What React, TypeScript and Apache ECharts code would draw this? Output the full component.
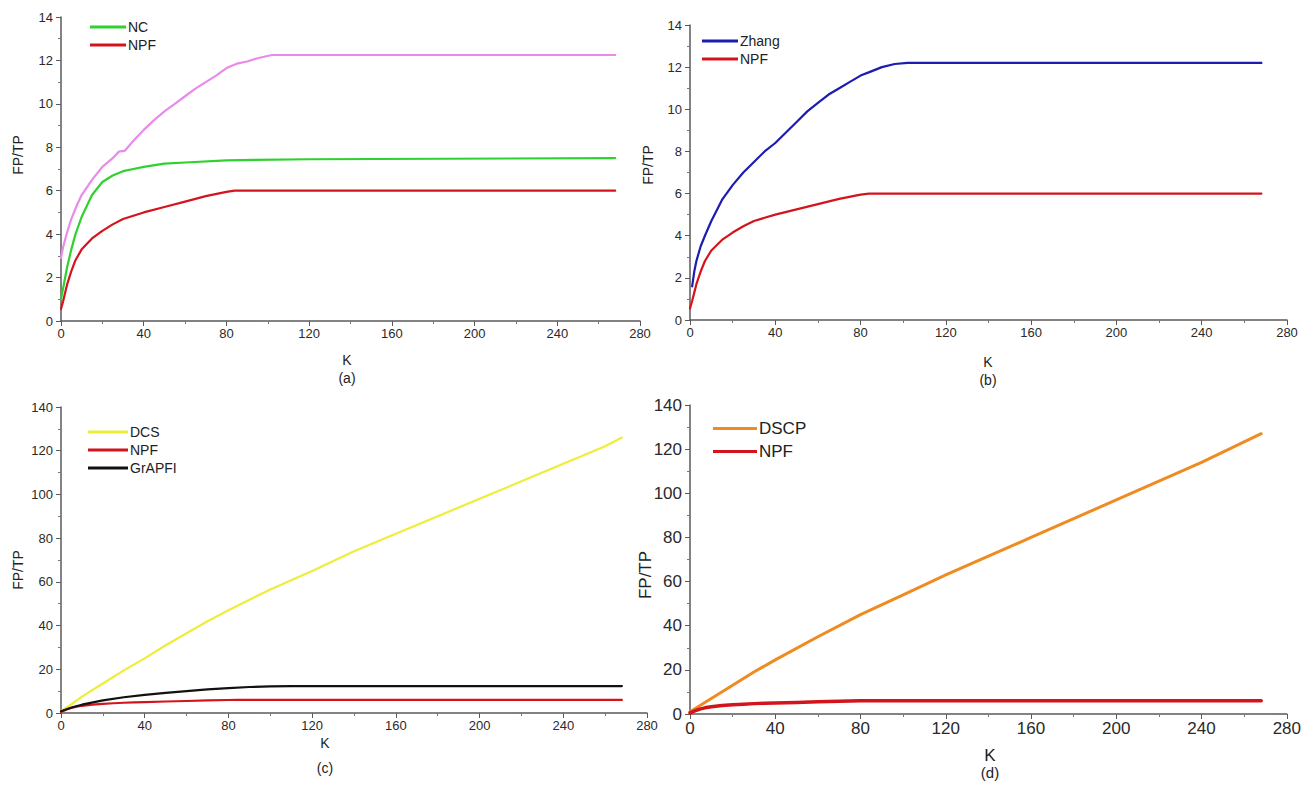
import React, { useEffect, useRef } from "react";
import * as echarts from "echarts";

// ---- data: [K, FP/TP] pairs ----
const npf: number[][] = [[0,0.55],[1,0.9],[2,1.3],[3,1.7],[5,2.3],[7,2.8],[10,3.3],[15,3.8],[20,4.15],[25,4.45],[30,4.7],[35,4.85],[40,5.0],[50,5.25],[60,5.5],[70,5.75],[80,5.95],[84,6.0],[268,6.0]];
const ncA: number[][] = [[0,1.0],[1,1.5],[2,2.0],[3,2.5],[5,3.3],[7,4.0],[10,4.8],[15,5.8],[20,6.4],[25,6.7],[30,6.9],[35,7.0],[40,7.1],[50,7.25],[60,7.3],[80,7.4],[120,7.45],[268,7.5]];
const pinkA: number[][] = [[0,2.9],[1,3.4],[3,4.1],[5,4.7],[8,5.4],[10,5.8],[15,6.5],[20,7.1],[25,7.5],[28,7.8],[31,7.85],[35,8.3],[40,8.8],[45,9.25],[50,9.65],[55,10.0],[60,10.35],[65,10.7],[70,11.0],[75,11.3],[80,11.65],[85,11.85],[90,11.95],[95,12.1],[102,12.25],[268,12.25]];
const zhangB: number[][] = [[1,1.6],[2,2.3],[3,2.8],[5,3.5],[7,4.0],[10,4.7],[15,5.7],[20,6.4],[25,7.0],[30,7.5],[35,8.0],[40,8.4],[45,8.9],[50,9.4],[55,9.9],[60,10.3],[65,10.7],[70,11.0],[75,11.3],[80,11.6],[85,11.8],[90,12.0],[96,12.15],[102,12.2],[268,12.2]];
const dcsC: number[][] = [[0,1],[5,4],[10,7.5],[20,13.5],[30,19.5],[40,25],[50,31],[60,36.5],[70,42],[80,47],[100,56.5],[120,65],[140,74],[160,82],[180,90],[200,98],[220,106],[240,114],[260,122],[268,126]];
const grapfiC: number[][] = [[0,0.8],[5,2.5],[10,3.8],[20,5.8],[30,7.2],[40,8.3],[50,9.2],[60,10.0],[70,10.8],[80,11.4],[90,11.9],[100,12.2],[110,12.3],[268,12.3]];
const dscpD: number[][] = [[0,1],[10,7],[20,13],[30,19],[40,24.5],[60,35],[80,45],[100,54],[120,63],[140,71.5],[160,80],[180,88.5],[200,97],[220,105.5],[240,114],[268,127]];

const xTicks = { min: 0, max: 280, interval: 40 };
const yTicksSmall = { min: 0, max: 14, interval: 2 };
const yTicksBig = { min: 0, max: 140, interval: 20 };

const FONT = "Liberation Sans, Arial, sans-serif";

export default function App() {
  const ref = useRef<HTMLDivElement>(null);
  useEffect(() => {
    const chart = echarts.init(ref.current!, undefined, { renderer: "svg" });
    const axisCommon = (fs: number, lm: number) => ({
      axisLine: { show: true, lineStyle: { color: "#5a5a5a", width: 1.5 } },
      axisTick: { show: true, inside: false, length: 5, lineStyle: { color: "#5a5a5a" } },
      minorTick: { show: true, splitNumber: 2, length: 3, lineStyle: { color: "#777" } },
      splitLine: { show: false },
      axisLabel: { color: "#2a2a2a", fontSize: fs, fontFamily: FONT, margin: lm },
    });
    const grids = [
      { left: 61, top: 17, width: 579, height: 304 },
      { left: 690, top: 25, width: 597, height: 295 },
      { left: 61, top: 407, width: 586, height: 306 },
      { left: 690, top: 405, width: 598, height: 309 },
    ];
    const fsz = [13, 13, 13, 17];
    const xAxis = grids.map((_, i) => ({
      type: "value", gridIndex: i, ...xTicks, ...axisCommon(fsz[i], 6),
    }));
    const yAxis = grids.map((_, i) => ({
      type: "value", gridIndex: i, ...(i < 2 ? yTicksSmall : yTicksBig), ...axisCommon(fsz[i], 8),
    }));
    const line = (name: string, data: number[][], idx: number, color: string, w = 2.2) => ({
      type: "line", name, data, xAxisIndex: idx, yAxisIndex: idx, showSymbol: false, symbol: "none",
      lineStyle: { color, width: w, join: "round", cap: "round" }, itemStyle: { color }, smooth: false,
    });
    const RED = "#d4141c";
    const series = [
      line("pink", pinkA, 0, "#ea8aea"),
      line("NC", ncA, 0, "#2fd12f"),
      line("NPF", npf, 0, RED),
      line("Zhang", zhangB, 1, "#1c1cb0"),
      line("NPF", npf, 1, RED),
      line("DCS", dcsC, 2, "#eeee3a"),
      line("NPF", npf, 2, RED),
      line("GrAPFI", grapfiC, 2, "#111111"),
      line("DSCP", dscpD, 3, "#ee8c22", 3),
      line("NPF", npf, 3, RED, 3.5),
    ];
    const legendBase = (fs: number) => ({
      orient: "vertical", icon: "rect", itemHeight: 3, selectedMode: false, padding: 0,
      textStyle: { fontSize: fs, fontFamily: FONT, color: "#222", padding: [0, 0, 0, -3] },
    });
    const legend = [
      { ...legendBase(14), data: ["NC", "NPF"], left: 90, top: 20, itemWidth: 36, itemGap: 4 },
      { ...legendBase(14), data: ["Zhang", "NPF"], left: 702, top: 34, itemWidth: 36, itemGap: 4 },
      { ...legendBase(14), data: ["DCS", "NPF", "GrAPFI"], left: 88, top: 425, itemWidth: 40, itemGap: 4 },
      { ...legendBase(17), data: ["DSCP", "NPF"], left: 713, top: 420, itemWidth: 44, itemGap: 6 },
    ];
    const txt = (text: string, x: number, y: number, fs: number, rot = 0) => ({
      type: "text", x, y, rotation: rot,
      style: { text, fontSize: fs, fontFamily: FONT, fill: "#222", align: "center", verticalAlign: "middle" },
    });
    const graphic = [
      txt("K", 347, 360, 14), txt("(a)", 347, 378, 14),
      txt("K", 988, 362, 14), txt("(b)", 988, 380, 14),
      txt("K", 325, 743, 14), txt("(c)", 325, 768, 14),
      txt("K", 990, 755, 17), txt("(d)", 990, 772, 15),
      txt("FP/TP", 18, 155, 14, Math.PI / 2),
      txt("FP/TP", 648, 165, 14, Math.PI / 2),
      txt("FP/TP", 18, 570, 14, Math.PI / 2),
      txt("FP/TP", 645, 575, 17, Math.PI / 2),
    ];
    chart.setOption({
      animation: false,
      backgroundColor: "#ffffff",
      grid: grids,
      xAxis, yAxis, series, legend, graphic,
    } as any);
    return () => chart.dispose();
  }, []);
  return <div ref={ref} style={{ position: "absolute", left: 0, top: 0, width: 1304, height: 787 }} />;
}
